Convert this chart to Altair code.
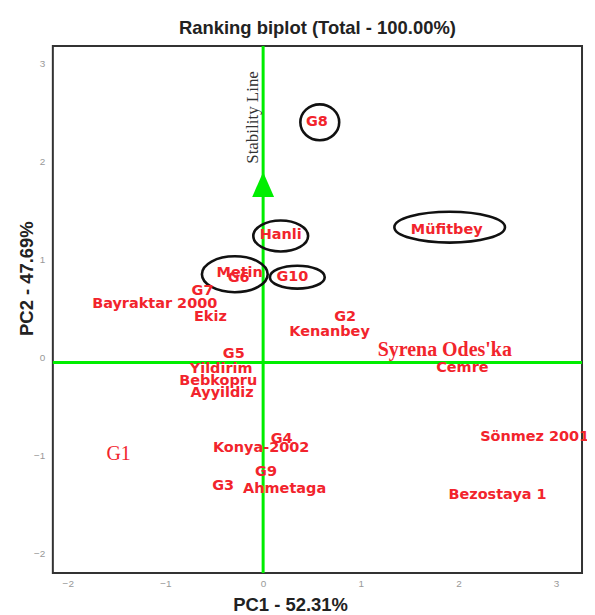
import altair as alt
import pandas as pd

# ---- data ----
genotypes = ["G8", "Hanli", "Müfitbey", "Metin", "G6", "G10", "G7", "Bayraktar 2000",
             "Ekiz", "G2", "Kenanbey", "Cemre", "G5", "Yildirim", "Bebkopru",
             "Ayyildiz", "G4", "Konya-2002", "G9", "G3", "Ahmetaga", "Sönmez 2001",
             "Bezostaya 1", "Syrena Odes'ka", "G1"]
pc1 = [0.55, 0.18, 1.88, -0.24, -0.25, 0.30, -0.62, -1.11,
       -0.54, 0.84, 0.68, 2.04, -0.30, -0.43, -0.46,
       -0.42, 0.19, -0.02, 0.03, -0.41, 0.22, 2.78,
       2.40, 1.86, -1.48]
pc2 = [2.40, 1.25, 1.30, 0.86, 0.81, 0.82, 0.68, 0.55,
       0.41, 0.41, 0.26, -0.11, 0.04, -0.12, -0.24,
       -0.36, -0.83, -0.92, -1.17, -1.31, -1.34, -0.81,
       -1.40, 0.08, -0.98]
serif_bold_names = ["Syrena Odes'ka"]
serif_names = ["G1"]

circled = ["G8", "Hanli", "Metin", "G10", "Müfitbey"]
circle_pc1 = [0.58, 0.18, -0.29, 0.35, 1.91]
circle_pc2 = [2.40, 1.24, 0.85, 0.82, 1.33]

x_ticks = [-2, -1, 0, 1, 2, 3]
y_ticks = [-2, -1, 0, 1, 2, 3]
x_domain = [-2.153, 3.265]
y_domain = [-2.20, 3.18]

stability_x = [0.0]
stability_y = [-0.05]
arrow_tip = [1.765]

# ---- styling ----
RED = "#f2242c"
GREEN = "#00ee00"
# ellipse pixel sizes (width, height)
ellipse_px = {"G8": (39, 36), "Hanli": (55, 31), "Metin": (66, 36),
              "G10": (55, 23), "Müfitbey": (111, 31)}

xs = alt.Scale(domain=x_domain, nice=False, zero=False)
ys = alt.Scale(domain=y_domain, nice=False, zero=False)

df = pd.DataFrame({"name": genotypes, "pc1": pc1, "pc2": pc2})
sans_df = df[~df["name"].isin(serif_bold_names + serif_names)]
serif_b_df = df[df["name"].isin(serif_bold_names)]
serif_df = df[df["name"].isin(serif_names)]

x_axis = alt.Axis(values=x_ticks, title="PC1 - 52.31%", titleX=238, titleY=38,
                  titleBaseline="alphabetic", titleFontSize=18.5, titleFontWeight="bold",
                  titleFont="Liberation Sans", titleColor="#222", labelPadding=5)
y_axis = alt.Axis(values=y_ticks, title="PC2 - 47.69%", titleX=-20, titleY=233,
                  titleAngle=270, titleBaseline="alphabetic", titleFontSize=18.5,
                  titleFontWeight="bold", titleFont="Liberation Sans", titleColor="#222",
                  labelPadding=8)


def X(f):
    return alt.X(f, scale=xs, axis=x_axis)


def Y(f):
    return alt.Y(f, scale=ys, axis=y_axis)


vline = alt.Chart(pd.DataFrame({"x": stability_x})).mark_rule(
    color=GREEN, strokeWidth=3).encode(x=X("x:Q"))
hline = alt.Chart(pd.DataFrame({"y": stability_y})).mark_rule(
    color=GREEN, strokeWidth=3).encode(y=Y("y:Q"))

arrow = alt.Chart(pd.DataFrame({"x": stability_x, "y": arrow_tip})).mark_point(
    shape="M0,-1L0.88,1L-0.88,1Z", size=625, filled=True, color=GREEN, opacity=1
).encode(x=X("x:Q"), y=Y("y:Q"))

stab_text = alt.Chart(pd.DataFrame({"x": [-0.05], "y": [2.45], "t": ["Stability Line"]})).mark_text(
    angle=270, align="center", baseline="alphabetic", font="Liberation Serif",
    fontSize=17, color="#333"
).encode(x=X("x:Q"), y=Y("y:Q"), text="t:N")

labels = alt.Chart(sans_df).mark_text(
    font="DejaVu Sans", fontWeight="bold", fontSize=14.5, color=RED,
    align="center", baseline="middle"
).encode(x=X("pc1:Q"), y=Y("pc2:Q"), text="name:N")

labels_sb = alt.Chart(serif_b_df).mark_text(
    font="Liberation Serif", fontWeight="bold", fontSize=20, color=RED,
    align="center", baseline="middle"
).encode(x=X("pc1:Q"), y=Y("pc2:Q"), text="name:N")

labels_s = alt.Chart(serif_df).mark_text(
    font="Liberation Serif", fontSize=20, color=RED,
    align="center", baseline="middle"
).encode(x=X("pc1:Q"), y=Y("pc2:Q"), text="name:N")

ellipses = []
for n, cx, cy in zip(circled, circle_pc1, circle_pc2):
    w, h = ellipse_px[n]
    r = h / w
    path = f"M-1,0A1,{r:.4f} 0 1,1 1,0A1,{r:.4f} 0 1,1 -1,0Z"
    ellipses.append(
        alt.Chart(pd.DataFrame({"x": [cx], "y": [cy]})).mark_point(
            shape=path, size=w * w, filled=False, stroke="#111", strokeWidth=2.6, opacity=1
        ).encode(x=X("x:Q"), y=Y("y:Q"))
    )

chart = alt.layer(vline, hline, arrow, stab_text, *ellipses, labels, labels_sb, labels_s).properties(
    width=531, height=529,
    title=alt.TitleParams("Ranking biplot (Total - 100.00%)", font="Liberation Sans",
                          fontSize=18.5, fontWeight="bold", color="#222",
                          anchor="middle", baseline="alphabetic", offset=12, frame="group",
                          dy=20),
    padding={"left": 45, "top": 37, "right": 5, "bottom": 41},
    autosize=alt.AutoSizeParams(type="none"),
).configure_view(stroke="#333", strokeWidth=2).configure_axis(
    domain=False, ticks=False, tickSize=0, grid=False, labelColor="#999",
    labelFont="Liberation Sans", labelFontSize=10
)

chart.save("out.html", embed_options={"renderer": "svg", "actions": False})
